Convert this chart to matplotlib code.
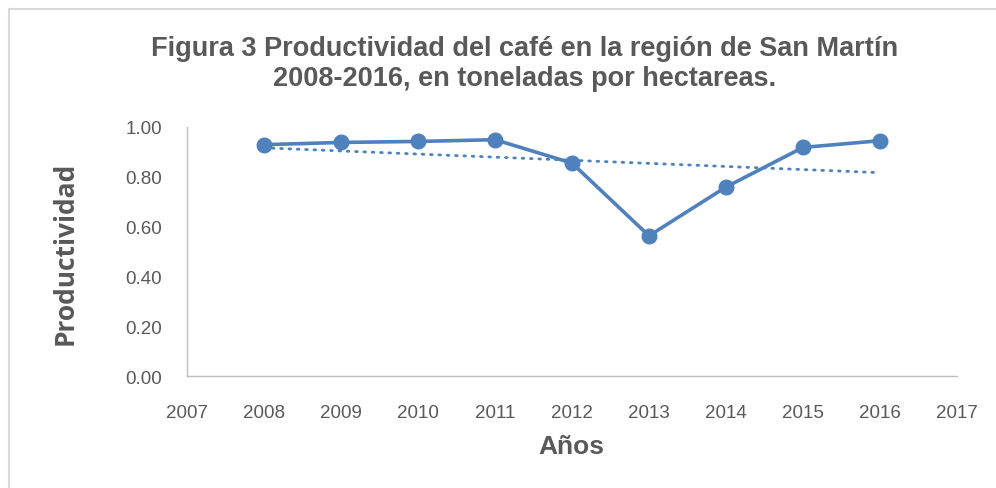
import numpy as np
import matplotlib
matplotlib.use("Agg")
import matplotlib.pyplot as plt
from matplotlib.lines import Line2D

years = [2008, 2009, 2010, 2011, 2012, 2013, 2014, 2015, 2016]
productividad = [0.929, 0.938, 0.942, 0.949, 0.855, 0.563, 0.759, 0.918, 0.945]
x_ticks = list(range(2007, 2018))
y_ticks = [0.0, 0.2, 0.4, 0.6, 0.8, 1.0]
title = "Figura 3 Productividad del café en la región de San Martín\n2008-2016, en toneladas por hectareas."
xlabel = "Años"
ylabel = "Productividad"

blue = "#4f81bd"
txt = "#595959"

fig = plt.figure(figsize=(9.96, 4.89), dpi=100)
ax = fig.add_axes([187/996, 1-377/489, (957-187)/996, (377-128)/489])

ax.plot(years, productividad, color=blue, lw=2.6, marker="o", markersize=10.5,
        markeredgecolor=blue, markerfacecolor=blue, zorder=3)

coef = np.polyfit(years, productividad, 1)
tx = np.array([years[0], years[-1]], dtype=float)
ax.plot(tx, np.polyval(coef, tx), color=blue, lw=2.0, linestyle=(0, (0.6, 2.4)),
        dash_capstyle="round", zorder=2)

ax.set_xlim(2007, 2017)
ax.set_ylim(0, 1.0)
ax.set_xticks(x_ticks)
ax.set_xticklabels([str(v) for v in x_ticks])
ax.set_yticks(y_ticks)
ax.set_yticklabels([f"{v:.2f}" for v in y_ticks])
ax.tick_params(length=0, labelsize=13.5, labelcolor=txt)
ax.tick_params(axis="y", pad=18)
ax.tick_params(axis="x", pad=20)
for lab in ax.get_xticklabels() + ax.get_yticklabels():
    lab.set_family(["Liberation Sans", "DejaVu Sans"])
for s in ["top", "right"]:
    ax.spines[s].set_visible(False)
for s in ["left", "bottom"]:
    ax.spines[s].set_color("#bfbfbf")
    ax.spines[s].set_linewidth(1.0)

fig.text(0.527, 1-64/489, title, ha="center", va="center", fontsize=19.5,
         fontweight="bold", color=txt, family=["Liberation Sans", "DejaVu Sans"],
         linespacing=1.2)
fig.text(571/996, 1-447/489, xlabel, ha="center", va="center", fontsize=19,
         fontweight="bold", color=txt, family=["Liberation Sans", "DejaVu Sans"])
fig.text(65/996, 1-253/489, ylabel, ha="center", va="center", rotation=90,
         fontsize=19, fontweight="bold", color=txt, family=["Open Sans", "DejaVu Sans"])

# outer chart frame (left and top edges visible)
fig.add_artist(Line2D([9/996, 9/996], [0, 1-10/489], transform=fig.transFigure,
                      color="#d9d9d9", lw=1.5))
fig.add_artist(Line2D([9/996, 1], [1-10/489, 1-10/489], transform=fig.transFigure,
                      color="#d9d9d9", lw=1.5))

fig.savefig("out.png", dpi=100)
